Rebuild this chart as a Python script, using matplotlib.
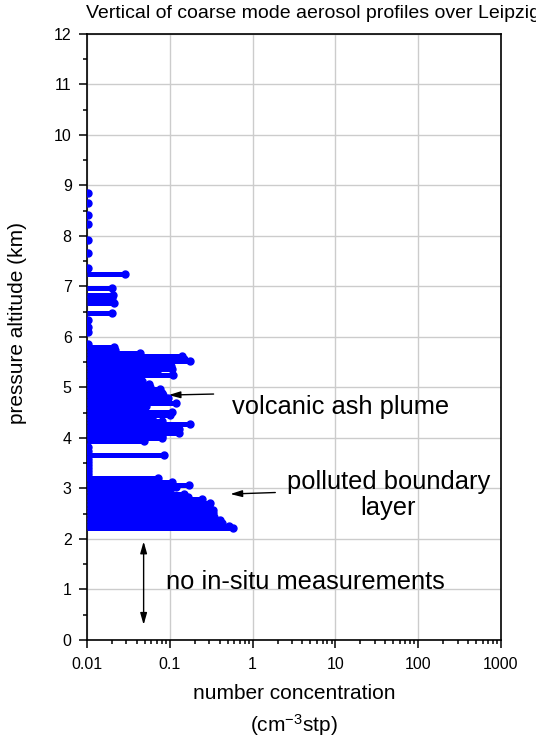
import matplotlib
matplotlib.use("Agg")
import matplotlib.pyplot as plt
from matplotlib.ticker import LogLocator, NullFormatter, MultipleLocator

plt.rcParams['font.family'] = ['Liberation Sans', 'DejaVu Sans']
plt.rcParams['mathtext.fontset'] = 'custom'
plt.rcParams['mathtext.rm'] = 'Liberation Sans'
plt.rcParams['mathtext.it'] = 'Liberation Sans:italic'

# Coarse mode profile: pressure altitude (km) and number concentration (cm-3 stp)
altitude = [8.86, 8.65, 8.42, 8.24, 7.93, 7.67, 7.36, 7.25,
            6.96, 6.83, 6.77, 6.68, 6.48, 6.34, 6.20, 6.10,
            5.87, 5.80, 5.74, 5.68, 5.62, 5.57, 5.53, 5.48, 5.43, 5.36,
            5.29, 5.25, 5.18, 5.12, 5.07, 5.01, 4.96, 4.90, 4.85, 4.79,
            4.74, 4.69, 4.63, 4.57, 4.52, 4.46, 4.39, 4.34, 4.28, 4.22,
            4.17, 4.10, 4.04, 3.99, 3.95, 3.83, 3.75, 3.66,
            3.58, 3.52, 3.46, 3.40, 3.34, 3.28, 3.23,
            3.20, 3.13, 3.07, 3.02, 2.97, 2.90, 2.84, 2.79, 2.72, 2.65,
            2.57, 2.51, 2.44, 2.38, 2.31, 2.26, 2.21]
concentration = [0.0102, 0.0102, 0.0102, 0.0102, 0.0102, 0.0102, 0.0102, 0.029,
                 0.020, 0.0205, 0.020, 0.021, 0.020, 0.0102, 0.0102, 0.0102,
                 0.0102, 0.021, 0.022, 0.044, 0.14, 0.15, 0.177, 0.10, 0.104, 0.106,
                 0.070, 0.108, 0.044, 0.046, 0.056, 0.058, 0.077, 0.080, 0.083, 0.095,
                 0.092, 0.119, 0.051, 0.049, 0.106, 0.100, 0.061, 0.080, 0.177, 0.097,
                 0.128, 0.130, 0.080, 0.080, 0.049, 0.0102, 0.0102, 0.084,
                 0.0102, 0.0102, 0.0102, 0.0102, 0.0102, 0.0102, 0.0102,
                 0.073, 0.106, 0.172, 0.12, 0.101, 0.147, 0.166, 0.245, 0.31, 0.30,
                 0.33, 0.33, 0.34, 0.40, 0.43, 0.52, 0.58]

x_ticks = [0.01, 0.1, 1, 10, 100, 1000]
x_ticklabels = ['0.01', '0.1', '1', '10', '100', '1000']
x_min = 0.01

azul = '#0000FF'

fig = plt.figure(figsize=(5.36, 7.42), dpi=100)
ax = fig.add_axes([0.1623, 0.1375, 0.7724, 0.8167])

# Drop lines from the left axis to each measured value
ax.hlines(altitude, x_min, concentration, colors=azul, linewidth=3.6, zorder=3)
ax.plot(concentration, altitude, 'o', color=azul, markersize=5, zorder=4)

ax.set_xscale('log')
ax.set_xlim(0.01, 1000)
ax.set_ylim(0, 12)
ax.set_xticks(x_ticks)
ax.set_xticklabels(x_ticklabels)
ax.xaxis.set_minor_locator(LogLocator(base=10, subs=range(2, 10)))
ax.xaxis.set_minor_formatter(NullFormatter())
ax.set_yticks(range(0, 13))
ax.yaxis.set_minor_locator(MultipleLocator(0.5))

ax.tick_params(which='major', direction='out', length=6, width=1.1,
               labelsize=11.5, pad=5, top=False, right=False)
ax.tick_params(which='minor', direction='out', length=3, width=1.1,
               top=False, right=False)
ax.tick_params(axis='x', which='major', pad=6)

for s in ax.spines.values():
    s.set_linewidth(1.2)

ax.grid(True, which='major', color='#cccccc', linewidth=1.0, zorder=0)
ax.set_axisbelow(True)

ax.set_ylabel('pressure altitude (km)', fontsize=15)
ax.yaxis.set_label_coords(-0.145, 0.523)
ax.set_xlabel('number concentration\n(cm$^{-3}$stp)', fontsize=15, linespacing=1.45)
ax.xaxis.set_label_coords(0.5, -0.117)
ax.xaxis.label.set_va('center')

# Annotations
flecha = dict(arrowstyle='-|>,head_length=0.7,head_width=0.2', color='k', lw=1,
              shrinkA=0, shrinkB=0)
ax.annotate('', xy=(0.0967, 4.85), xytext=(0.338, 4.87), arrowprops=flecha)
ax.annotate('', xy=(0.538, 2.89), xytext=(1.88, 2.92), arrowprops=flecha)
doble = dict(arrowstyle='<|-|>,head_length=0.7,head_width=0.2', color='k', lw=1,
             shrinkA=0, shrinkB=0)
ax.annotate('', xy=(0.0483, 1.95), xytext=(0.0483, 0.30), arrowprops=doble)

ax.text(11.6, 4.61, 'volcanic ash plume', fontsize=18.4, ha='center', va='center')
ax.text(43.5, 2.87, 'polluted boundary\nlayer', fontsize=18.4, ha='center',
        va='center', multialignment='center', linespacing=1.1)
ax.text(4.39, 1.15, 'no in-situ measurements', fontsize=18.4, ha='center', va='center')

fig.text(86 / 536, 1 - 13 / 742, 'Vertical of coarse mode aerosol profiles over Leipzig',
         fontsize=14.0, ha='left', va='center')

plt.savefig('out.png', dpi=100)
